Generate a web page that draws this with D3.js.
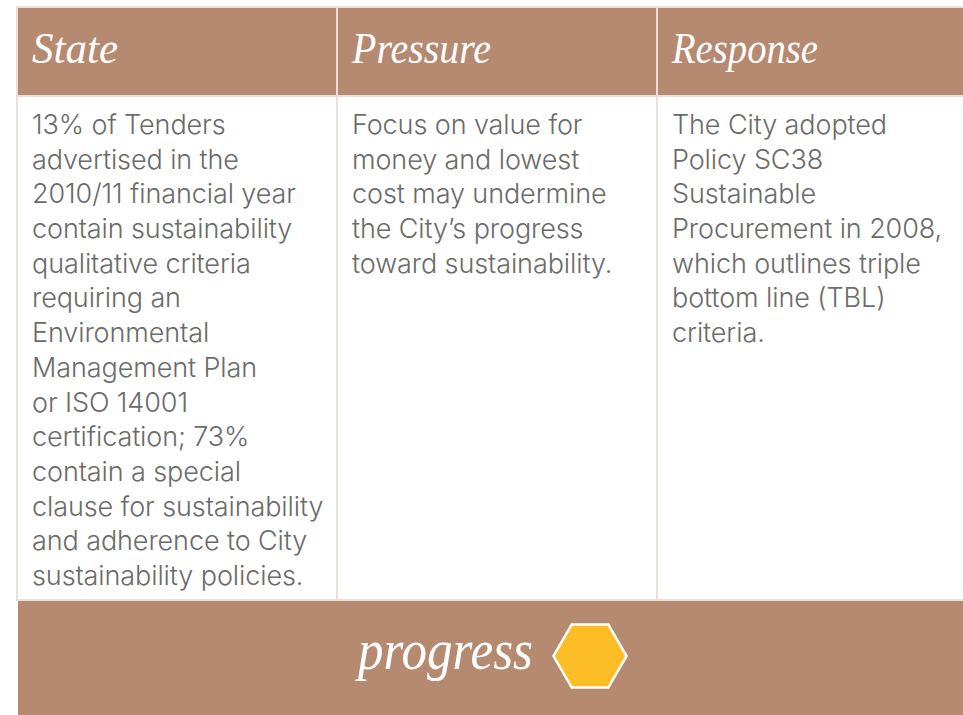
<!DOCTYPE html>
<html>
<head>
<meta charset="utf-8">
<script src="https://cdn.jsdelivr.net/npm/d3@7"></script>
<style>
    html, body { margin: 0; padding: 0; background: #fff; overflow: hidden; }
    svg { display: block; }
    .head { font-family: "Liberation Serif", serif; font-style: italic; fill: #fff; }
    .body-line { font-family: Inter, sans-serif; font-weight: 300; font-size: 27px; letter-spacing: -0.1px; fill: #6b6b69; }
</style>
</head>
<body>
<svg id="table" width="963" height="715"></svg>
<script>
// Column headings and the wrapped lines of each cell
const columns = ["State", "Pressure", "Response"];
const stateLines = [
    "13% of Tenders", "advertised in the", "2010/11 financial year", "contain sustainability",
    "qualitative criteria", "requiring an", "Environmental", "Management Plan",
    "or ISO 14001", "certification; 73%", "contain a special", "clause for sustainability",
    "and adherence to City", "sustainability policies."
];
const pressureLines = [
    "Focus on value for", "money and lowest", "cost may undermine",
    "the City\u2019s progress", "toward sustainability."
];
const responseLines = [
    "The City adopted", "Policy SC38", "Sustainable", "Procurement in 2008,",
    "which outlines triple", "bottom line (TBL)", "criteria."
];
const cellLines = [stateLines, pressureLines, responseLines];
const footerLabel = "progress";

const BROWN = "#b68a71";
const RULE = "#ecdfd6";
const HEX = "#fdbd27";

const svg = d3.select("#table");

// Three equal columns, the last one runs off the right edge of the page
const x = d3.scaleBand().domain(columns).range([17, 977]);
const line = d3.scaleLinear().domain([0, 13]).range([134, 585]);

// Header and footer bands
svg.append("rect").attr("x", 16).attr("y", 6).attr("width", 947).attr("height", 91).attr("fill", RULE);
svg.append("rect").attr("x", 18).attr("y", 8).attr("width", 945).attr("height", 87).attr("fill", BROWN);
svg.append("rect").attr("x", 18).attr("y", 600).attr("width", 945).attr("height", 115).attr("fill", BROWN);
svg.append("rect").attr("x", 16).attr("y", 599).attr("width", 947).attr("height", 2).attr("fill", RULE);

// Vertical rules
svg.selectAll("line.rule")
    .data(columns)
    .enter()
    .append("line")
    .attr("class", "rule")
    .attr("x1", d => x(d))
    .attr("x2", d => x(d))
    .attr("y1", 7)
    .attr("y2", 600)
    .attr("stroke", RULE)
    .attr("stroke-width", 2);

// Header labels
const headWidths = { State: 86, Pressure: 139, Response: 146 };
svg.selectAll("text.head")
    .data(columns)
    .enter()
    .append("text")
    .attr("class", "head")
    .attr("x", d => x(d) + 15)
    .attr("y", 63)
    .attr("font-size", 44)
    .attr("textLength", d => headWidths[d])
    .attr("lengthAdjust", "spacingAndGlyphs")
    .text(d => d);

// Cell text
const cols = svg.selectAll("g.col")
    .data(columns)
    .enter()
    .append("g")
    .attr("class", "col")
    .attr("transform", d => `translate(${x(d) + 15},0)`);

cols.selectAll("text")
    .data((d, i) => cellLines[i])
    .enter()
    .append("text")
    .attr("class", "body-line")
    .attr("y", (d, i) => line(i))
    .text(d => d);

// Footer
svg.append("text")
    .attr("class", "head")
    .attr("x", 358)
    .attr("y", 669)
    .attr("font-size", 58)
    .attr("textLength", 175)
    .attr("lengthAdjust", "spacingAndGlyphs")
    .text(footerLabel);

const hexagon = d3.lineRadial()
    .angle(d => d * Math.PI / 3 + Math.PI / 2)
    .radius(36.5)
    .curve(d3.curveLinearClosed);

svg.append("path")
    .attr("transform", "translate(590,656)")
    .attr("d", hexagon([0, 1, 2, 3, 4, 5]))
    .attr("fill", HEX)
    .attr("stroke", "#fff")
    .attr("stroke-width", 2.5);
</script>
</body>
</html>
